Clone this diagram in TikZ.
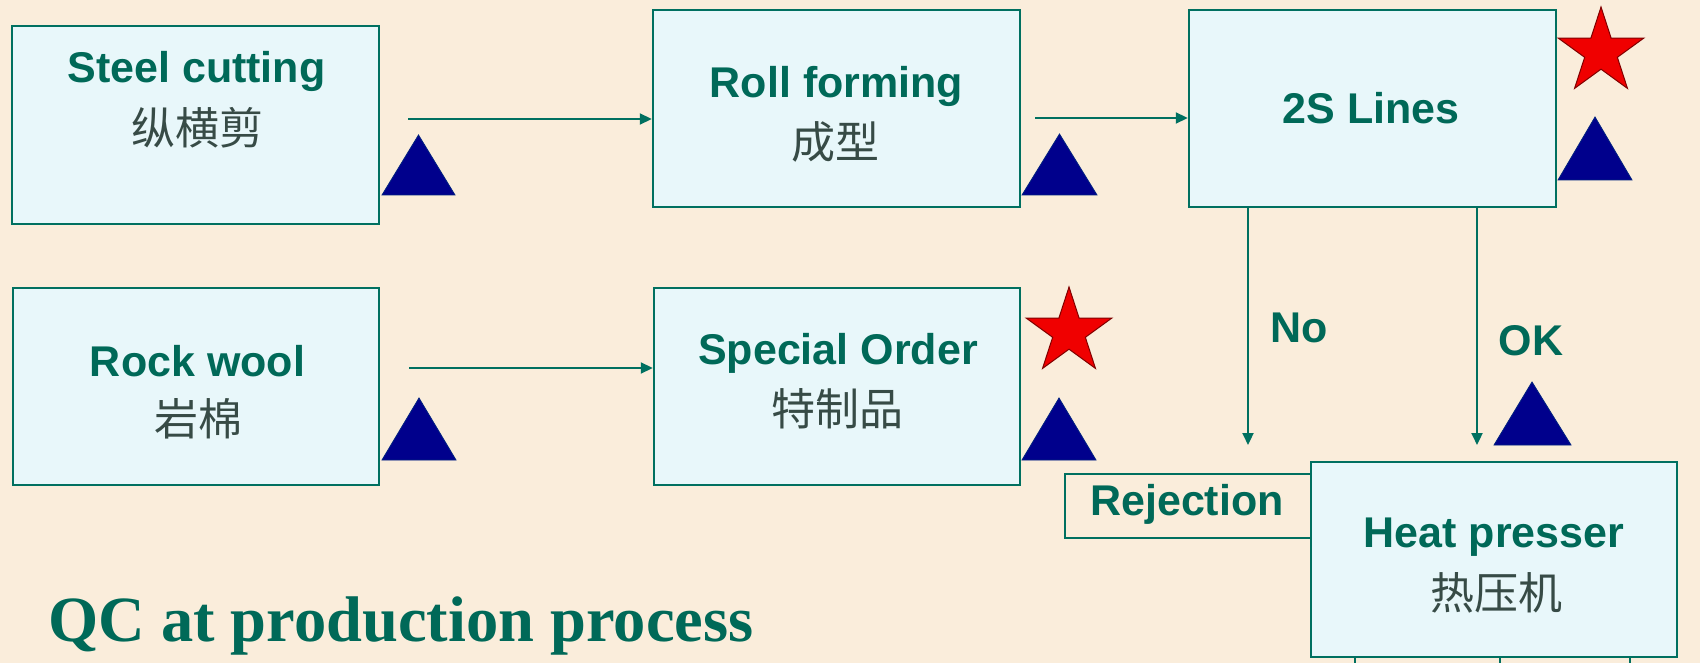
\documentclass[tikz,border=0pt]{standalone}
\usepackage{fontspec}
\setmainfont{Liberation Sans}
\newfontfamily\cjk{Noto Sans CJK SC}
\newfontfamily\titlefont{Liberation Serif}
\usetikzlibrary{arrows.meta,shapes.geometric}
\definecolor{bgc}{RGB}{250,237,219}
\definecolor{boxfill}{RGB}{232,247,250}
\definecolor{tealline}{RGB}{0,112,96}
\definecolor{txtc}{RGB}{0,105,88}
\definecolor{cjkc}{RGB}{55,75,70}
\definecolor{navyc}{RGB}{0,0,140}
\definecolor{redc}{RGB}{240,0,0}
\begin{document}
\begin{tikzpicture}[x=1pt,y=-1pt,
  pbox/.style={draw=tealline,line width=2.5pt,fill=boxfill,rectangle,inner sep=0pt},
  rbox/.style={draw=tealline,line width=2pt,fill=bgc,rectangle,inner sep=0pt},
  entxt/.style={anchor=base,inner sep=0pt,text=txtc,font=\fontsize{43}{50}\selectfont\bfseries},
  cntxt/.style={anchor=base,inner sep=0pt,text=cjkc,font=\cjk\fontsize{44}{50}\selectfont},
  conn/.style={draw=tealline,line width=2.2pt,-{Triangle[length=12pt,width=11pt]}},
  tri/.style={fill=navyc,draw=navyc!70!tealline,line width=0.8pt},
  redstar/.style={star,star points=5,star point ratio=2.618,minimum size=90pt,inner sep=0pt,fill=redc,draw=red!50!black,line width=1pt}]
\fill[bgc] (0,0) rectangle (1700,663);
\useasboundingbox (0,0) rectangle (1700,663);

% boxes
\node[pbox,minimum width=367pt,minimum height=198pt] (steel) at (195.5,125) {};
\node[pbox,minimum width=367pt,minimum height=197pt] (roll) at (836.5,108.5) {};
\node[pbox,minimum width=367pt,minimum height=197pt] (lines) at (1372.5,108.5) {};
\node[pbox,minimum width=366pt,minimum height=197pt] (rock) at (196,386.5) {};
\node[pbox,minimum width=366pt,minimum height=197pt] (special) at (837,386.5) {};
\node[rbox,minimum width=246pt,minimum height=64pt] (reject) at (1188,506) {};
\node[pbox,minimum width=366pt,minimum height=195pt] (heat) at (1494,559.5) {};

% texts
\node[entxt] (steelE) at (196.5,83) {Steel cutting};
\node[cntxt] (steelC) at (197.5,145) {纵横剪};
\node[entxt] (rollE) at (836.5,98) {Roll forming};
\node[cntxt] (rollC) at (835,159) {成型};
\node[entxt] (linesE) at (1371,124) {2S Lines};
\node[entxt] (rockE) at (197.5,376) {Rock wool};
\node[cntxt] (rockC) at (198,435) {岩棉};
\node[entxt] (specialE) at (838,364) {Special Order};
\node[cntxt] (specialC) at (837,425) {特制品};
\node[entxt] (rejectE) at (1187,515) {Rejection};
\node[entxt] (heatE) at (1494,547) {Heat presser};
\node[cntxt] (heatC) at (1496,609) {热压机};
\node[entxt] (noL) at (1299,342) {No};
\node[entxt] (okL) at (1531,355) {OK};
\node[anchor=base west,inner sep=0pt,text=txtc,font=\titlefont\fontsize{64.5}{72}\selectfont\bfseries] (title) at (48,641) {QC at production process};

% connectors
\coordinate (a1) at (408,119);
\coordinate (a2) at (1035,118);
\coordinate (a3) at (409,368);
\coordinate (noEnd) at (1248,445);
\coordinate (okEnd) at (1477,445);
\draw[conn] (a1) -- (a1 -| roll.west);
\draw[conn] (a2) -- (a2 -| lines.west);
\draw[conn] (a3) -- (a3 -| special.west);
\draw[conn] (noEnd |- lines.south) -- (noEnd);
\draw[conn] (okEnd |- lines.south) -- (okEnd);
\coordinate (t1) at (1355,663);
\coordinate (t2) at (1500,663);
\coordinate (t3) at (1630,663);
\draw[tealline,line width=2pt] (t1 |- heat.south) -- (t1);
\draw[tealline,line width=2pt] (t2 |- heat.south) -- (t2);
\draw[tealline,line width=2pt] (t3 |- heat.south) -- (t3);

% QC marks
\draw[tri] (382,195) -- (418.5,135) -- (455,195) -- cycle;
\draw[tri] (1022,195) -- (1059.5,134) -- (1097,195) -- cycle;
\draw[tri] (1558,180) -- (1595,117) -- (1632,180) -- cycle;
\draw[tri] (382,460) -- (419,398) -- (456,460) -- cycle;
\draw[tri] (1022,460) -- (1059,398) -- (1096,460) -- cycle;
\draw[tri] (1494,445) -- (1532,382) -- (1571,445) -- cycle;
\node[redstar] (star1) at (1601,52) {};
\node[redstar] (star2) at (1069,332) {};
\end{tikzpicture}
\end{document}
